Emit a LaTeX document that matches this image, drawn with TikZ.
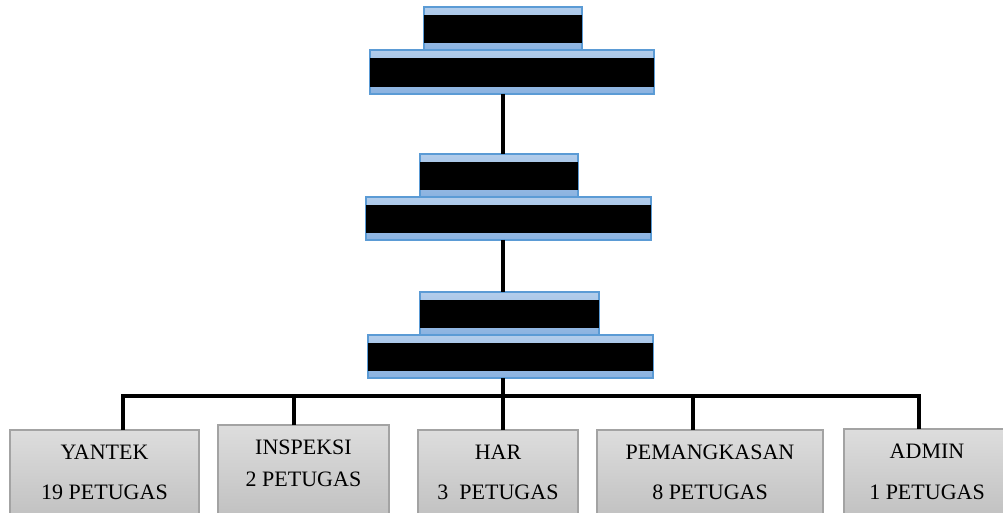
\documentclass[tikz,border=0pt]{standalone}
\usepackage{fontspec}
\setmainfont{Liberation Serif}
\usetikzlibrary{calc}
\definecolor{bandtop}{HTML}{B3CDEB}
\definecolor{bandbot}{HTML}{8AB2E0}
\definecolor{bandline}{HTML}{5B9BD5}
\definecolor{grtop}{HTML}{DDDDDD}
\definecolor{grbot}{HTML}{BDBDBD}
\definecolor{grline}{HTML}{A3A3A3}
\newcommand\bandbox[5]{%
  \node[bar, minimum width={(#4-#2)*0.75pt}, minimum height={(#5-#3)*0.75pt}] (#1) at (#2,#3) {};
  \fill[black] ($(#1.north west)+(0,8)$) rectangle ($(#1.south east)+(0,-7)$);}
\newcommand\unitbox[5]{%
  \node[unit, minimum width={(#4-#2)*0.75pt}, minimum height={(#5-#3)*0.75pt}] (#1) at (#2,#3) {};}
\begin{document}
\begin{tikzpicture}[x=0.75pt,y=-0.75pt,
  bar/.style={rectangle, draw=bandline, line width=0.8pt, top color=bandtop, bottom color=bandbot, inner sep=0pt, outer sep=0pt, anchor=north west},
  unit/.style={rectangle, draw=grline, line width=0.8pt, top color=grtop, bottom color=grbot, inner sep=0pt, outer sep=0pt, anchor=north west},
  txt/.style={font=\fontsize{16.5}{18}\selectfont, anchor=base, inner sep=0pt},
  link/.style={line width=3pt}]
\clip (0,0) rectangle (1003,513);
% top group
\bandbox{s1}{424}{7}{582}{50}
\bandbox{l1}{370}{50}{654}{94}
% middle group
\bandbox{s2}{420}{154}{578}{197}
\bandbox{l2}{366}{197}{651}{240}
% third group
\bandbox{s3}{420}{292}{599}{335}
\bandbox{l3}{368}{335}{653}{378}
% bottom units
\unitbox{yantek}{10}{430}{199}{530}
\unitbox{inspeksi}{218}{425}{389}{530}
\unitbox{har}{418}{430}{578}{530}
\unitbox{pem}{597}{430}{823}{530}
\unitbox{admin}{844}{429}{1010}{530}
\node[txt] (yantekA) at ($(yantek.north)+(0,29)$) {YANTEK};
\node[txt] (yantekB) at ($(yantek.north)+(0,69)$) {19 PETUGAS};
\node[txt] (inspeksiA) at ($(inspeksi.north)+(0,29)$) {INSPEKSI};
\node[txt] (inspeksiB) at ($(inspeksi.north)+(0,61)$) {2 PETUGAS};
\node[txt] (harA) at ($(har.north)+(0,29)$) {HAR};
\node[txt] (harB) at ($(har.north)+(0,69)$) {3\ \ PETUGAS};
\node[txt] (pemA) at ($(pem.north)+(0,29)$) {PEMANGKASAN};
\node[txt] (pemB) at ($(pem.north)+(0,69)$) {8 PETUGAS};
\node[txt] (adminA) at ($(admin.north)+(0,29)$) {ADMIN};
\node[txt] (adminB) at ($(admin.north)+(0,70)$) {1 PETUGAS};
% connectors
\coordinate (spine) at (503,0);
\coordinate (d1) at (123,396);
\coordinate (d2) at (294,396);
\coordinate (d3) at (503,396);
\coordinate (d4) at (693,396);
\coordinate (d5) at (919,396);
\draw[link] (l1.south -| spine) -- (s2.north -| spine);
\draw[link] (l2.south -| spine) -- (s3.north -| spine);
\draw[link] (l3.south -| spine) -- (d3);
\draw[link] (yantek.north -| d1) -- (d1) -- (d5) -- (admin.north -| d5);
\draw[link] (inspeksi.north -| d2) -- (d2);
\draw[link] (har.north -| d3) -- (d3);
\draw[link] (pem.north -| d4) -- (d4);
\end{tikzpicture}
\end{document}
